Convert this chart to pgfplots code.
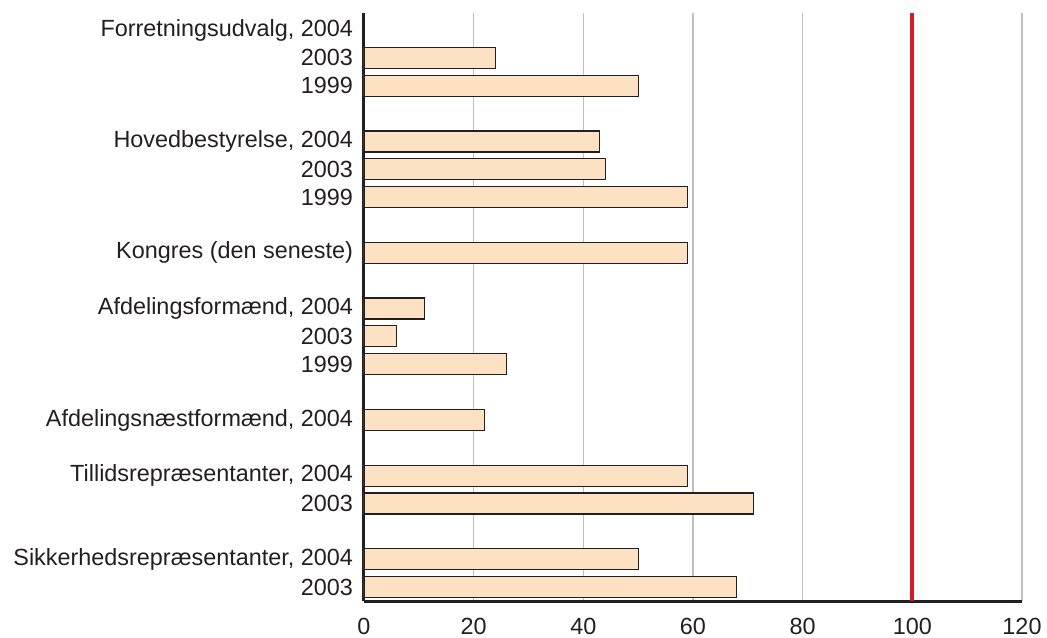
\documentclass[border=0pt]{standalone}
\usepackage{fontspec}
\setmainfont{Liberation Sans}
\usepackage{pgfplots}
\pgfplotsset{compat=1.18}
\definecolor{barfill}{RGB}{253,225,195}
\definecolor{txt}{RGB}{35,31,32}
\definecolor{refred}{RGB}{210,30,40}
\begin{document}
\begin{tikzpicture}
\begin{axis}[
  width=329pt, height=294pt, scale only axis,
  xmin=0, xmax=120, ymin=-0.61, ymax=20.5, y dir=reverse,
  xtick={0,20,...,120},
  ytick={0,1,2,4,5,6,8,10,11,12,14,16,17,19,20},
  yticklabels={{Forretningsudvalg, 2004},2003,1999,
    {Hovedbestyrelse, 2004},2003,1999,
    {Kongres (den seneste)},
    {Afdelingsformænd, 2004},2003,1999,
    {Afdelingsnæstformænd, 2004},
    {Tillidsrepræsentanter, 2004},2003,
    {Sikkerhedsrepræsentanter, 2004},2003},
  xmajorgrids, grid style={gray!50, line width=0.6pt},
  axis x line*=bottom, axis y line*=left,
  axis line style={-, line width=1.5pt, color=txt},
  major tick length=0pt,
  tick label style={font=\fontsize{11.7}{14}\selectfont, text=txt},
  /pgf/number format/assume math mode=true,
  yticklabel style={xshift=-2pt},
  xticklabel style={yshift=-5pt},
]
\addplot[xbar, bar width=10.5pt, fill=barfill, draw=txt, line width=0.6pt]
  coordinates {
  (24,1) (50,2)
  (43,4) (44,5) (59,6)
  (59,8)
  (11,10) (6,11) (26,12)
  (22,14)
  (59,16) (71,17)
  (50,19) (68,20)
  };
\addplot[refred, line width=2pt, no markers] coordinates {(100,-0.61) (100,20.5)};
\end{axis}
\pgfresetboundingbox
\path[use as bounding box] ([shift={(-182pt,-18pt)}]current axis.south west) rectangle ([shift={(341.5pt,300.5pt)}]current axis.south west);
\end{tikzpicture}
\end{document}
